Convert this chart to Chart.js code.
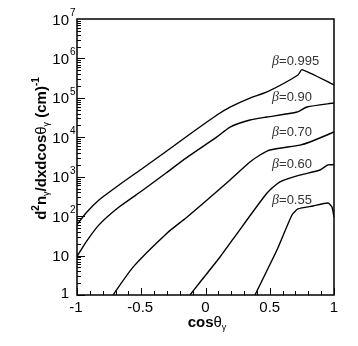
<!DOCTYPE html>
<html>
<head>
<meta charset="utf-8">
<script src="https://cdn.jsdelivr.net/npm/chart.js@4/dist/chart.umd.min.js"></script>
<style>
  html, body { margin: 0; padding: 0; background: #fff; }
  #wrap { width: 358px; height: 346px; }
</style>
</head>
<body>
<div id="wrap"><canvas id="photonChart" width="358" height="346"></canvas></div>
<script>
// curve data (x = cos theta, y = d2n/dxdcos)
const cos995 = [-1, -0.93, -0.829, -0.673, -0.486, -0.307, -0.152, 0.089, 0.191, 0.346, 0.479, 0.72, 0.751, 1.0];
const n995   = [60, 120, 257, 618, 1660, 4360, 10200, 36700, 58500, 99000, 141000, 380000, 520000, 212000];

const cos90 = [-1, -0.93, -0.829, -0.673, -0.486, -0.307, -0.152, 0.089, 0.191, 0.346, 0.479, 0.712, 0.79, 1.0];
const n90   = [9.5, 22, 60, 170, 460, 1240, 2960, 10200, 18200, 27500, 32600, 43700, 58500, 74000];

const cos70 = [-0.72, -0.564, -0.3, -0.152, 0.012, 0.191, 0.346, 0.424, 0.502, 0.735, 0.813, 1.0];
const n70   = [1, 5.1, 37, 90, 257, 830, 2350, 3550, 4760, 6350, 7600, 13600];

const cos60 = [-0.121, -0.043, 0.113, 0.214, 0.479, 0.58, 0.735, 0.891, 0.953, 1.0];
const n60   = [1, 2.1, 9.2, 26, 385, 740, 1100, 1480, 1990, 2000];

const cos55 = [0.385, 0.556, 0.673, 0.72, 0.837, 0.953, 0.984, 1.0];
const n55   = [1, 13.8, 107, 152, 181, 215, 170, 95];

const betaLabels = ['0.995', '0.90', '0.70', '0.60', '0.55'];
const xTicks = [-1, -0.5, 0, 0.5, 1];
const yTickExps = [0, 1, 2, 3, 4, 5, 6, 7];

// where the beta labels sit (data coords)
const labelX = 0.518;
const labelY = [9.1e5, 1.1e5, 1.45e4, 2230, 270];

const FONT = '"Liberation Sans", Arial, Helvetica, sans-serif';

function pts(xs, ys) {
  return xs.map((x, i) => ({ x: x, y: ys[i] }));
}

function curve(xs, ys) {
  return {
    data: pts(xs, ys),
    borderColor: '#000',
    borderWidth: 1.4,
    pointRadius: 0,
    fill: false,
    tension: 0.2
  };
}

// draw a run of text pieces with own fonts and vertical offsets
function drawParts(ctx, parts, x, y, align) {
  let total = 0;
  parts.forEach(p => { ctx.font = p.font; total += ctx.measureText(p.t).width; });
  let cx = x;
  if (align === 'center') cx = x - total / 2;
  if (align === 'right') cx = x - total;
  ctx.textAlign = 'left';
  ctx.textBaseline = 'alphabetic';
  parts.forEach(p => {
    ctx.font = p.font;
    ctx.fillStyle = p.color || '#000';
    ctx.fillText(p.t, cx, y + (p.dy || 0));
    cx += ctx.measureText(p.t).width;
  });
}

const framePlugin = {
  id: 'frame',
  afterDraw(chart) {
    const ctx = chart.ctx;
    const a = chart.chartArea;
    const xs = chart.scales.x;
    const ys = chart.scales.y;
    ctx.save();

    // box
    ctx.strokeStyle = '#000';
    ctx.lineWidth = 1.5;
    ctx.strokeRect(a.left, a.top, a.right - a.left, a.bottom - a.top);

    // y ticks, inward
    ctx.lineWidth = 1;
    for (let e = 0; e < 7; e++) {
      for (let m = 1; m <= 9; m++) {
        const py = Math.round(ys.getPixelForValue(m * Math.pow(10, e))) + 0.5;
        const len = m === 1 ? 8 : 4;
        ctx.beginPath();
        ctx.moveTo(a.left, py);
        ctx.lineTo(a.left + len, py);
        ctx.stroke();
      }
    }

    // x ticks, inward
    for (let i = -10; i <= 10; i++) {
      const px = Math.round(xs.getPixelForValue(i / 10)) + 0.5;
      const len = i % 5 === 0 ? 7 : 4;
      ctx.beginPath();
      ctx.moveTo(px, a.bottom);
      ctx.lineTo(px, a.bottom - len);
      ctx.stroke();
    }

    // y tick labels
    const big = '15px ' + FONT;
    const small = '10px ' + FONT;
    yTickExps.forEach(e => {
      const py = ys.getPixelForValue(Math.pow(10, e));
      if (e === 0) {
        drawParts(ctx, [{ t: '1', font: big }], 69, py + 3, 'right');
      } else if (e === 1) {
        drawParts(ctx, [{ t: '10', font: big }], 69, py + 5.5, 'right');
      } else {
        drawParts(ctx, [{ t: '10', font: big }], 69, py + 5.5, 'right');
        drawParts(ctx, [{ t: String(e), font: small }], 70, py - 3, 'left');
      }
    });

    // x tick labels
    xTicks.forEach(v => {
      const px = xs.getPixelForValue(v);
      drawParts(ctx, [{ t: String(v), font: big }], px - (v < 0 ? 1 : 0), 312, 'center');
    });

    // x title
    const bold = 'bold 15px ' + FONT;
    const sym = '15px ' + FONT;
    const sub = '9px ' + FONT;
    drawParts(ctx, [
      { t: 'cos', font: bold },
      { t: 'θ', font: sym },
      { t: 'γ', font: sub, dy: 3 }
    ], 207, 327, 'center');

    // y title, rotated
    ctx.save();
    ctx.translate(46, 148.5);
    ctx.rotate(-Math.PI / 2);
    drawParts(ctx, [
      { t: 'd', font: bold },
      { t: '2', font: 'bold 10px ' + FONT, dy: -7 },
      { t: 'n', font: bold },
      { t: 'γ', font: sub, dy: 3 },
      { t: '/dxdcos', font: bold },
      { t: 'θ', font: sym },
      { t: 'γ', font: sub, dy: 3 },
      { t: ' (cm)', font: bold },
      { t: '-1', font: 'bold 10px ' + FONT, dy: -7 }
    ], 0, 0, 'center');
    ctx.restore();

    // beta labels
    betaLabels.forEach((b, i) => {
      const px = xs.getPixelForValue(labelX);
      const py = ys.getPixelForValue(labelY[i]);
      drawParts(ctx, [
        { t: 'β', font: 'italic 14px "Liberation Serif", "Times New Roman", serif', color: '#333' },
        { t: '=' + b, font: '13px ' + FONT, color: '#333' }
      ], px, py + 5, 'left');
    });

    ctx.restore();
  }
};

new Chart(document.getElementById('photonChart'), {
  type: 'line',
  data: {
    datasets: [
      curve(cos995, n995),
      curve(cos90, n90),
      curve(cos70, n70),
      curve(cos60, n60),
      curve(cos55, n55)
    ]
  },
  options: {
    responsive: false,
    animation: false,
    layout: { padding: { left: 77, right: 24, top: 19, bottom: 51 } },
    plugins: {
      legend: { display: false },
      tooltip: { enabled: false }
    },
    scales: {
      x: { type: 'linear', min: -1, max: 1, display: false },
      y: { type: 'logarithmic', min: 1, max: 1e7, display: false }
    }
  },
  plugins: [framePlugin]
});
</script>
</body>
</html>
